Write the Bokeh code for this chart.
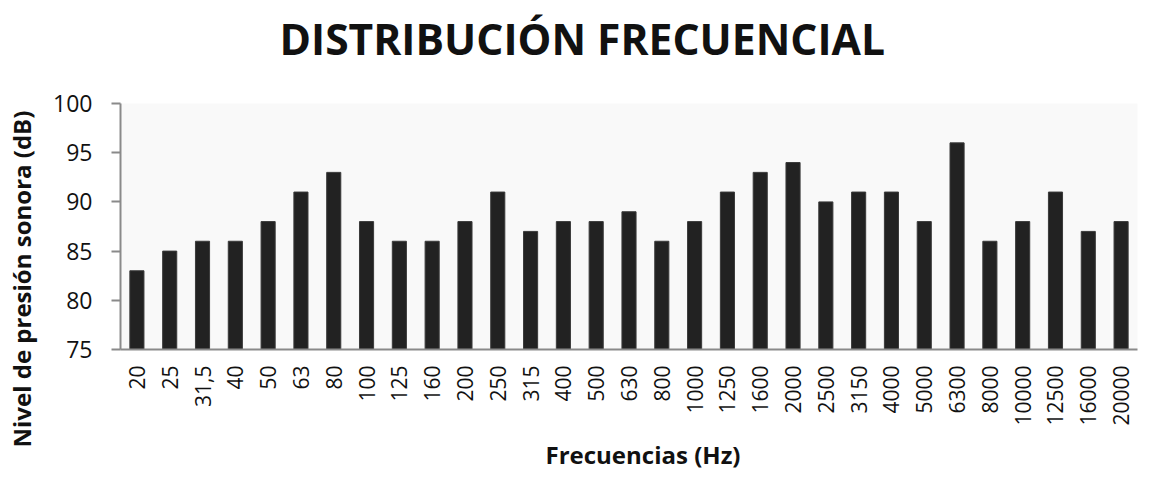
import math
from bokeh.plotting import figure
from bokeh.models import FixedTicker, Title
from bokeh.embed import file_html
from bokeh.resources import INLINE

frequencies = ["20", "25", "31,5", "40", "50", "63", "80", "100", "125", "160",
               "200", "250", "315", "400", "500", "630", "800", "1000", "1250",
               "1600", "2000", "2500", "3150", "4000", "5000", "6300", "8000",
               "10000", "12500", "16000", "20000"]
levels_db = [83, 85, 86, 86, 88, 91, 93, 88, 86, 86,
             88, 91, 87, 88, 88, 89, 86, 88, 91,
             93, 94, 90, 91, 91, 88, 96, 86,
             88, 91, 87, 88]
y_ticks = [75, 80, 85, 90, 95, 100]

title_text = "DISTRIBUCIÓN FRECUENCIAL"
y_title = "Nivel de presión sonora (dB)"
x_title = "Frecuencias (Hz)"

FONT = "Open Sans"

p = figure(x_range=frequencies, y_range=(75, 100), width=1158, height=477,
           output_backend="svg", toolbar_location=None, title=None,
           min_border_left=120, min_border_right=21,
           min_border_top=103, min_border_bottom=128)

p.vbar(x=frequencies, top=levels_db, bottom=75, width=0.43,
       fill_color="#222222", line_color="#3a3a3a", line_width=1)

p.background_fill_color = "#f9f9f9"
p.border_fill_color = "white"
p.outline_line_color = None
p.xgrid.grid_line_color = None
p.ygrid.grid_line_color = None
p.x_range.range_padding = 0

# chart title, with an invisible spacer between it and the frame
p.add_layout(Title(text=" ", text_font_size="1px", standoff=34), "above")
p.add_layout(Title(text=title_text, align="left", offset=159, standoff=0,
                   text_font=FONT, text_font_style="bold",
                   text_font_size="42.6px", text_color="#111111"), "above")

ya = p.yaxis[0]
ya.ticker = FixedTicker(ticks=y_ticks)
ya.axis_line_color = "#8a8a8a"
ya.axis_line_width = 2
ya.major_tick_line_color = "#8a8a8a"
ya.major_tick_line_width = 2
ya.major_tick_out = 9
ya.major_tick_in = 0
ya.minor_tick_line_color = None
ya.major_label_text_font = FONT
ya.major_label_text_font_size = "23px"
ya.major_label_text_color = "#111111"
ya.major_label_standoff = 19

# y-axis title (side title so it can sit lower than the frame centre)
p.add_layout(Title(text=" ", text_font_size="1px", standoff=10), "left")
p.add_layout(Title(text=y_title, align="left", offset=-98, standoff=0,
                   text_font=FONT, text_font_style="bold",
                   text_font_size="24px", text_color="#111111"), "left")

xa = p.xaxis[0]
xa.axis_line_color = "#8a8a8a"
xa.axis_line_width = 2
xa.major_tick_line_color = None
xa.major_tick_out = 0
xa.major_tick_in = 0
xa.minor_tick_line_color = None
xa.major_label_orientation = math.pi / 2
xa.major_label_text_font = FONT
xa.major_label_text_font_size = "21px"
xa.major_label_text_color = "#111111"
xa.major_label_standoff = 16

# x-axis title
p.add_layout(Title(text=x_title, align="left", offset=425, standoff=14,
                   text_font=FONT, text_font_style="bold",
                   text_font_size="24px", text_color="#111111"), "below")

open("out.html", "w").write(file_html(p, INLINE))
